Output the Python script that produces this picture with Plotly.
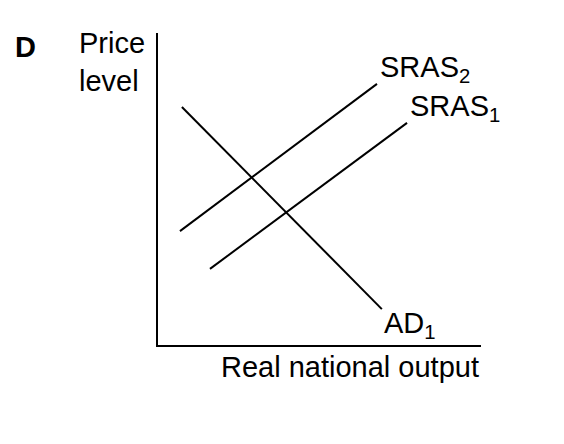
import plotly.graph_objects as go

# Conceptual units: origin at axes corner, 0..10 on each axis
ad1_x = [0.74, 6.93]
ad1_y = [7.63, 1.15]
sras2_x = [0.68, 6.78]
sras2_y = [3.65, 8.37]
sras1_x = [1.61, 7.71]
sras1_y = [2.44, 7.12]

FONT = "Liberation Sans, Arial, sans-serif"
line_style = dict(color="black", width=2)

fig = go.Figure()
for xs, ys in [(ad1_x, ad1_y), (sras2_x, sras2_y), (sras1_x, sras1_y)]:
    fig.add_trace(go.Scatter(x=xs, y=ys, mode="lines", line=line_style,
                             hoverinfo="skip", showlegend=False))

ann = dict(showarrow=False, font=dict(family=FONT, size=29, color="black"),
           xref="paper", yref="paper")
fig.add_annotation(x=0.68, y=0.885, text="SRAS<sub>2</sub>", xanchor="left", yanchor="middle", **ann)
fig.add_annotation(x=0.775, y=0.76, text="SRAS<sub>1</sub>", xanchor="left", yanchor="middle", **ann)
fig.add_annotation(x=0.695, y=0.065, text="AD<sub>1</sub>", xanchor="left", yanchor="middle", **ann)
fig.add_annotation(x=1.0, y=-0.07, text="Real national output", xanchor="right", yanchor="middle", **ann)
fig.add_annotation(x=-0.25, y=1.025, text="Price<br>level", xanchor="left", yanchor="top", align="left", **ann)
fig.add_annotation(x=-0.45, y=0.955, text="<b>D</b>", xanchor="left", yanchor="middle", **ann)

fig.update_layout(
    width=556, height=436,
    margin=dict(l=150, r=83, t=25, b=99),
    paper_bgcolor="white", plot_bgcolor="white",
    xaxis=dict(range=[0, 10], showgrid=False, zeroline=False, showticklabels=False,
               ticks="", showline=True, linecolor="black", linewidth=2, fixedrange=True),
    yaxis=dict(range=[0, 10], showgrid=False, zeroline=False, showticklabels=False,
               ticks="", showline=True, linecolor="black", linewidth=2, fixedrange=True),
)
fig.write_html("out.html")
